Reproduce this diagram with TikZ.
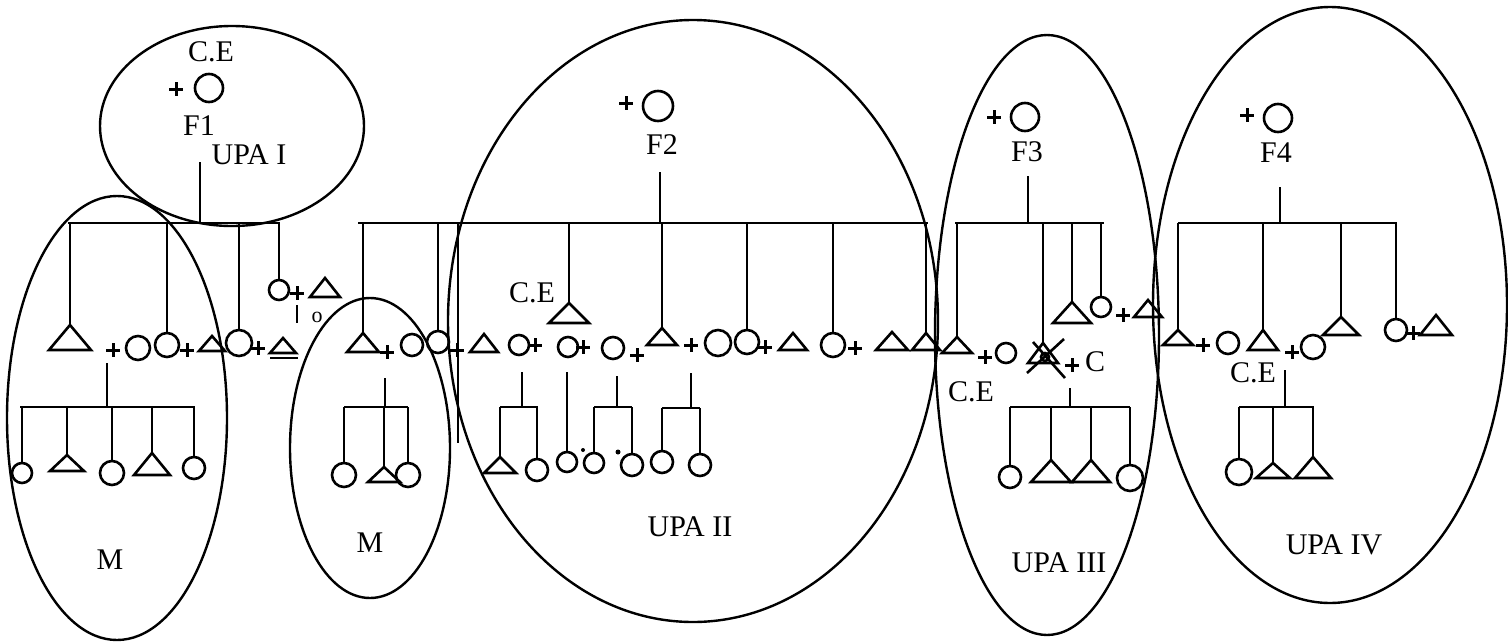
\documentclass[tikz,border=0pt]{standalone}
\usepackage{fontspec}
\setmainfont{Liberation Serif}
\newcommand\tri[5]{\coordinate (#1) at (#2,#3);\draw[person] (#1) -- ++(-#4,#5) -- ++(2*#4,0) -- cycle;}
\newcommand\cir[4]{\node[circ,minimum size={2*#4pt}] (#1) at (#2,#3) {};}
\newcommand\pl[2]{\draw[plus] (#1-7,#2) -- (#1+7,#2) (#1,#2-7) -- (#1,#2+7);}
\begin{document}
\begin{tikzpicture}[x=1pt,y=-1pt,line width=2.6pt,
  person/.style={line width=2.6pt,line join=miter},
  plus/.style={line width=3pt},
  circ/.style={draw,circle,inner sep=0pt,line width=2.6pt},
  lbl/.style={font=\fontsize{30}{30}\selectfont,inner sep=0pt},
  group/.style={line width=2.4pt}]
\useasboundingbox (0,0) rectangle (1508,643);

% ---- group ellipses
\draw[group] (232,126) ellipse [x radius=132pt, y radius=100pt];
\draw[group] (117,418) ellipse [x radius=110pt, y radius=222pt];
\draw[group] (370,448) ellipse [x radius=80pt, y radius=150pt];
\draw[group] (693,321) ellipse [x radius=245pt, y radius=301pt];
\draw[group] (1047,335) ellipse [x radius=112pt, y radius=300pt];
\draw[group] (1330,305) ellipse [x radius=177pt, y radius=298pt];

% ---- F1 / UPA I
\node[lbl] (ce1) at (211,52) {C.E};
\pl{176}{89}
\cir{f1w}{209}{88}{14}
\node[lbl] (f1) at (199,126) {F1};
\node[lbl] (upa1) at (249,155) {UPA I};
\coordinate (f1d) at (200,162);
\coordinate (b1l) at (68,223);
\coordinate (b1r) at (280,223);
\draw (f1d) -- (f1d |- b1l);
\draw (b1l) -- (b1r);

\tri{a1}{70}{325}{21}{25}
\pl{113}{350}
\cir{a2}{138}{348}{12}
\cir{a3}{167}{345}{12}
\pl{187}{350}
\tri{a4}{212}{336}{13}{15}
\cir{a5}{239}{343}{13}
\pl{258}{348}
\tri{a6}{283}{338}{13}{15}
\draw (270,358) -- (298,358);
\cir{a7}{279}{290}{10}
\pl{297}{293}
\tri{a8}{325}{278}{15}{19}
\coordinate (a7d) at (297,305);
\draw (a7d) -- ++(0,18);
\node[font=\fontsize{22}{22}\selectfont,inner sep=0pt] (o1) at (317,317) {o};

\draw (b1l -| a1) -- (a1);
\draw (b1l -| a3) -- (a3.north);
\draw (b1l -| a5) -- (a5.north);
\draw (b1l -| a7) -- (a7.north);

% children of a1 + a2
\coordinate (m1d) at (107,363);
\coordinate (m1l) at (20,407);
\coordinate (m1r) at (195,407);
\draw (m1d) -- (m1d |- m1l);
\draw (m1l) -- (m1r);
\cir{k1}{22}{473}{10}
\tri{k2}{67}{455}{17}{16}
\cir{k3}{112}{473}{12}
\tri{k4}{152}{453}{18}{22}
\cir{k5}{194}{468}{11}
\draw (m1l -| k1) -- (k1.north);
\draw (m1l -| k2) -- (k2);
\draw (m1l -| k3) -- (k3.north);
\draw (m1l -| k4) -- (k4);
\draw (m1l -| k5) -- (k5.north);
\node[lbl] (mA) at (110,560) {M};

% ---- F2 / UPA II
\pl{626}{103}
\cir{f2w}{658}{106}{15}
\node[lbl] (f2) at (662,145) {F2};
\coordinate (f2d) at (660,172);
\coordinate (b2l) at (358,223);
\coordinate (b2r) at (928,223);
\draw (f2d) -- (f2d |- b2l);
\draw (b2l) -- (b2r);

\tri{m1}{363}{333}{16}{19}
\pl{387}{352}
\cir{m2}{412}{345}{11}
\cir{m3}{438}{342}{11}
\pl{457}{350}
\coordinate (lg) at (458,443);
\draw (b2l -| lg) -- (lg);
\tri{p1}{484}{334}{14}{18}
\cir{p2}{519}{345}{10}
\pl{535}{345}
\cir{p3}{568}{347}{10}
\pl{583}{347}
\cir{p4}{613}{348}{11}
\pl{637}{355}
\tri{ce2t}{569}{303}{20}{20}
\node[lbl] (ce2) at (532,293) {C.E};
\tri{p5}{662}{328}{15}{17}
\pl{691}{345}
\cir{p6}{718}{343}{13}
\cir{p7}{747}{342}{12}
\pl{765}{347}
\tri{p8}{793}{333}{14}{17}
\cir{p9}{833}{345}{12}
\pl{855}{348}
\tri{p10}{892}{332}{16}{18}
\tri{p11}{926}{333}{14}{17}

\draw (b2l -| m1) -- (m1);
\draw (b2l -| m3) -- (m3.north);
\draw (b2l -| ce2t) -- (ce2t);
\draw (b2l -| p5) -- (p5);
\draw (b2l -| p7) -- (p7.north);
\draw (b2l -| p9) -- (p9.north);
\draw (b2l -| p11) -- (p11);

% children of m1 + m2
\coordinate (m2d) at (385,378);
\coordinate (m2l) at (344,407);
\coordinate (m2r) at (408,407);
\draw (m2d) -- (m2d |- m2l);
\draw (m2l) -- (m2r);
\cir{n1}{344}{475}{12}
\tri{n2}{384}{467}{16}{15}
\cir{n3}{408}{475}{12}
\draw (m2l -| n1) -- (n1.north);
\draw (m2l -| n2) -- (n2);
\draw (m2l -| n3) -- (n3.north);
\node[lbl] (mB) at (370,543) {M};

% children in UPA II
\coordinate (q1d) at (522,372);
\coordinate (q1l) at (500,407);
\coordinate (q1r) at (538,407);
\draw (q1d) -- (q1d |- q1l);
\draw (q1l) -- (q1r);
\tri{r1}{500}{457}{16}{16}
\cir{r2}{537}{470}{11}
\draw (q1l -| r1) -- (r1);
\draw (q1l -| r2) -- (r2.north);

\coordinate (q2d) at (567,372);
\cir{r3}{567}{462}{10}
\draw (q2d) -- (r3.north);

\coordinate (q3d) at (617,376);
\coordinate (q3l) at (594,407);
\coordinate (q3r) at (632,407);
\draw (q3d) -- (q3d |- q3l);
\draw (q3l) -- (q3r);
\cir{r4}{594}{463}{10}
\cir{r5}{632}{465}{11}
\draw (q3l -| r4) -- (r4.north);
\draw (q3l -| r5) -- (r5.north);
\fill (583,450) circle (2pt) (618,452) circle (2.5pt);

\coordinate (q4d) at (691,373);
\coordinate (q4l) at (662,408);
\coordinate (q4r) at (700,408);
\draw (q4d) -- (q4d |- q4l);
\draw (q4l) -- (q4r);
\cir{r6}{662}{462}{11}
\cir{r7}{700}{465}{11}
\draw (q4l -| r6) -- (r6.north);
\draw (q4l -| r7) -- (r7.north);
\node[lbl] (upa2) at (690,527) {UPA II};

% ---- F3 / UPA III
\pl{994}{117}
\cir{f3w}{1025}{117}{14}
\node[lbl] (f3) at (1027,152) {F3};
\coordinate (f3d) at (1028,176);
\coordinate (b3l) at (955,223);
\coordinate (b3r) at (1104,223);
\draw (f3d) -- (f3d |- b3l);
\draw (b3l) -- (b3r);

\tri{s1}{957}{337}{15}{16}
\pl{985}{357}
\cir{s2}{1006}{353}{10}
\node[lbl] (ce3) at (971,392) {C.E};
\tri{s3}{1043}{343}{15}{20}
\draw (1027,373) -- (1064,339) (1033,342) -- (1065,378);
\draw (1045,357) circle (4pt);
\pl{1072}{365}
\node[lbl] (s4) at (1095,362) {C};
\tri{s5}{1072}{302}{19}{21}
\cir{s6}{1101}{307}{10}
\pl{1123}{315}
\tri{s7}{1148}{300}{14}{17}
\draw (b3l -| s1) -- (s1);
\draw (b3l -| s3) -- (s3);
\draw (b3l -| s5) -- (s5);
\draw (b3l -| s6) -- (s6.north);

\coordinate (u1d) at (1070,388);
\coordinate (u1l) at (1010,407);
\coordinate (u1r) at (1130,407);
\draw (u1d) -- (u1d |- u1l);
\draw (u1l) -- (u1r);
\cir{v1}{1010}{477}{11}
\tri{v2}{1051}{460}{20}{22}
\tri{v3}{1091}{460}{19}{22}
\cir{v4}{1130}{478}{13}
\draw (u1l -| v1) -- (v1.north);
\draw (u1l -| v2) -- (v2);
\draw (u1l -| v3) -- (v3);
\draw (u1l -| v4) -- (v4.north);
\node[lbl] (upa3) at (1059,563) {UPA III};

% ---- F4 / UPA IV
\pl{1247}{115}
\cir{f4w}{1278}{118}{14}
\node[lbl] (f4) at (1276,153) {F4};
\coordinate (f4d) at (1280,187);
\coordinate (b4l) at (1178,223);
\coordinate (b4r) at (1397,223);
\draw (f4d) -- (f4d |- b4l);
\draw (b4l) -- (b4r);

\tri{w1}{1178}{330}{15}{15}
\pl{1203}{345}
\cir{w2}{1228}{343}{11}
\tri{w3}{1263}{330}{15}{20}
\pl{1292}{352}
\cir{w4}{1313}{347}{12}
\node[lbl] (ce4) at (1253,373) {C.E};
\tri{w5}{1341}{317}{18}{18}
\cir{w6}{1396}{330}{11}
\pl{1413}{333}
\tri{w7}{1436}{315}{16}{20}
\draw (b4l -| w1) -- (w1);
\draw (b4l -| w3) -- (w3);
\draw (b4l -| w5) -- (w5);
\draw (b4l -| w6) -- (w6.north);

\coordinate (x1d) at (1285,370);
\coordinate (x1l) at (1239,407);
\coordinate (x1r) at (1314,407);
\draw (x1d) -- (x1d |- x1l);
\draw (x1l) -- (x1r);
\cir{y1}{1239}{472}{13}
\tri{y2}{1273}{463}{17}{15}
\tri{y3}{1313}{457}{18}{21}
\draw (x1l -| y1) -- (y1.north);
\draw (x1l -| y2) -- (y2);
\draw (x1l -| y3) -- (y3);
\node[lbl] (upa4) at (1334,545) {UPA IV};
\end{tikzpicture}
\end{document}
